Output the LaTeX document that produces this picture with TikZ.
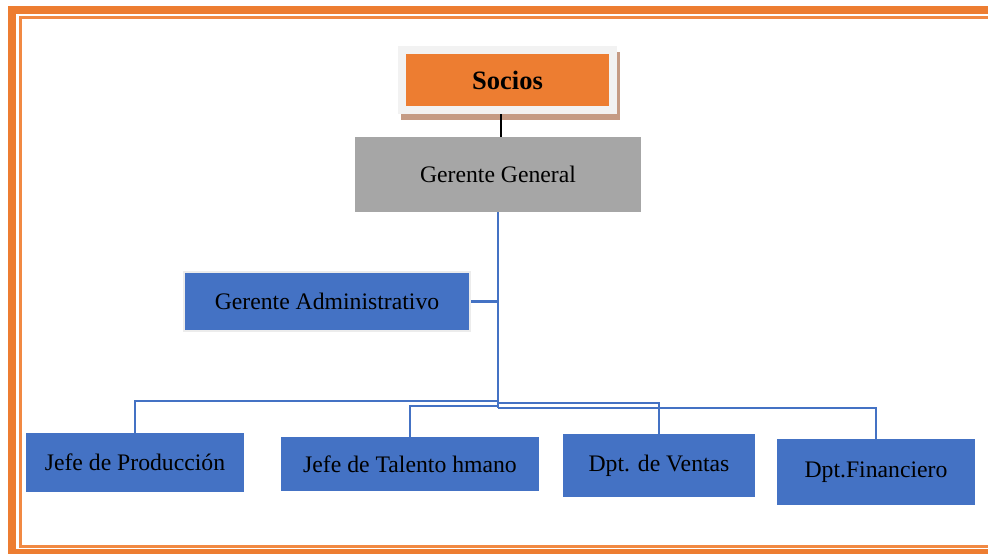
\documentclass[tikz,border=0pt]{standalone}
\usepackage{fontspec}
\setmainfont{Liberation Serif}
\usetikzlibrary{calc}

\definecolor{frameorange}{RGB}{237,125,49}
\definecolor{framethin}{RGB}{241,137,67}
\definecolor{boxorange}{RGB}{237,125,49}
\definecolor{boxgray}{RGB}{166,166,166}
\definecolor{boxblue}{RGB}{68,114,196}
\definecolor{paleframe}{RGB}{242,242,242}
\definecolor{shadowbrown}{RGB}{197,155,132}
\definecolor{borderlight}{RGB}{236,236,236}

\tikzset{
  orgtext/.style={font=\fontsize{23.7}{28}\selectfont, text=black, inner sep=0pt, align=center},
  bluebox/.style={orgtext, fill=boxblue},
  link/.style={draw=boxblue, line width=2.5pt},
}

\begin{document}
\begin{tikzpicture}[x=1pt, y=-1pt]
  % page area
  \useasboundingbox (0,0) rectangle (988,554);
  \fill[white] (0,0) rectangle (988,554);

  % double orange page frame, running off the right and bottom edges
  \begin{scope}
    \clip (0,0) rectangle (988,554);
    \draw[frameorange, line width=8pt] (12,10) rectangle (1000,553);
    \draw[framethin, line width=3pt] (20.5,17.5) rectangle (994,546.5);
  \end{scope}

  % Socios: shadowed frame with the orange box inside
  \fill[shadowbrown] (401,52) rectangle (620,120);
  \node[fill=paleframe, minimum width=219pt, minimum height=68pt, inner sep=0pt]
    (sociosframe) at (507.5,80) {};
  \node[fill=boxorange, minimum width=203pt, minimum height=52pt, inner sep=0pt,
        font=\fontsize{26.5}{30}\selectfont\bfseries]
    (socios) at (507.5,80) {Socios};

  % Gerente General
  \node[orgtext, fill=boxgray, minimum width=286pt, minimum height=75pt]
    (gg) at (498,174.5) {Gerente General};

  % Gerente Administrativo
  \node[bluebox, draw=borderlight, line width=2pt, minimum width=286pt, minimum height=59pt]
    (ga) at (327,301.5) {Gerente Administrativo};

  % department boxes
  \node[bluebox, minimum width=218pt, minimum height=59pt] (jp) at (135,462.5) {Jefe de Producción};
  \node[bluebox, minimum width=258pt, minimum height=54pt] (jt) at (410,464) {Jefe de Talento hmano};
  \node[bluebox, minimum width=192pt, minimum height=63pt] (dv) at (659,465.5) {Dpt. de Ventas};
  \node[bluebox, minimum width=198pt, minimum height=66pt] (df) at (876,472) {Dpt.Financiero};

  % Socios to Gerente General
  \draw[black, line width=2pt] ([xshift=-6.8pt]sociosframe.south) -- ([xshift=-6.8pt]sociosframe.south |- gg.north);

  % branch points on the trunk
  \coordinate (t1) at (498,401);
  \coordinate (t3) at (498,403);
  \coordinate (t2) at (498,406);
  \coordinate (hub) at (498,408);

  % trunk and branches
  \draw[link] (gg.south) -- (hub);
  \draw[link] (ga.east) -- (ga.east -| hub);
  \draw[link] (jp.north) |- (t1);
  \draw[link] (dv.north) |- (t3);
  \draw[link] (jt.north) |- (t2);
  \draw[link] (df.north) |- (hub);
\end{tikzpicture}
\end{document}
